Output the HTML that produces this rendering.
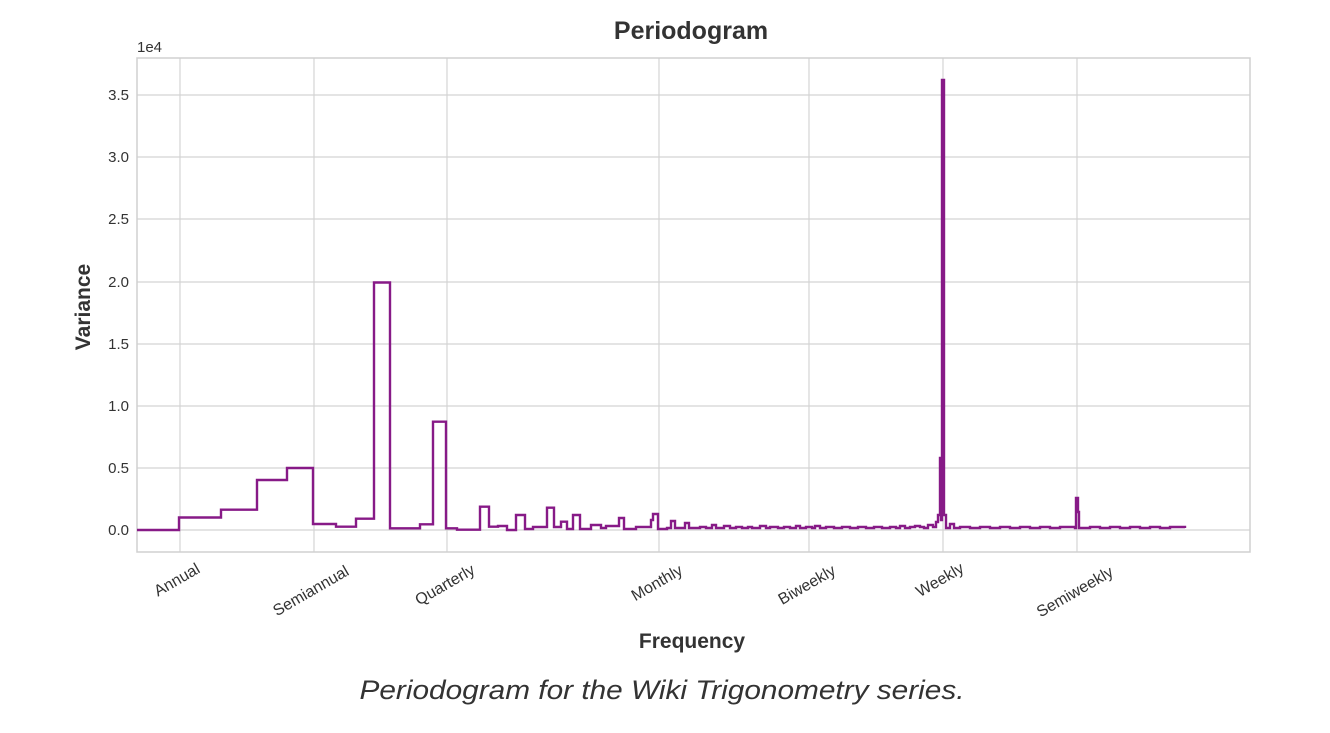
<!DOCTYPE html>
<html><head><meta charset="utf-8"><style>
body{margin:0;background:#fff;width:1330px;height:728px;overflow:hidden}
svg text{font-family:"Liberation Sans",sans-serif;fill:#333}
</style></head><body>
<svg width="1330" height="728" xmlns="http://www.w3.org/2000/svg">
<rect x="0" y="0" width="1330" height="728" fill="#fff"/>
<g stroke="#d4d4d4" stroke-width="1.2">
<line x1="180" y1="58" x2="180" y2="552"/><line x1="314" y1="58" x2="314" y2="552"/>
<line x1="447" y1="58" x2="447" y2="552"/><line x1="659" y1="58" x2="659" y2="552"/>
<line x1="809" y1="58" x2="809" y2="552"/><line x1="943" y1="58" x2="943" y2="552"/>
<line x1="1077" y1="58" x2="1077" y2="552"/>
<line x1="137" y1="530" x2="1250" y2="530"/><line x1="137" y1="468" x2="1250" y2="468"/>
<line x1="137" y1="406" x2="1250" y2="406"/><line x1="137" y1="344" x2="1250" y2="344"/>
<line x1="137" y1="282" x2="1250" y2="282"/><line x1="137" y1="219" x2="1250" y2="219"/>
<line x1="137" y1="157" x2="1250" y2="157"/><line x1="137" y1="95" x2="1250" y2="95"/>
</g>
<rect x="137" y="58" width="1113" height="494" fill="none" stroke="#d0d0d0" stroke-width="1.5"/>
<path fill="none" stroke="#871a87" stroke-width="2.4" stroke-linejoin="miter" d="M137,530 H179 V517.5 H221 V509.7 H257 V480 H287 V468 H313 V524 H336 V526.7 H356 V518.7 H374 V282.5 H390 V528.3 H420 V524.3 H433 V421.7 H446 V528.3 H457 V529.7 H480 V506.7 H489 V526.7 H498 V526 H507 V530 H516 V515 H525 V529 H533 V527 H547 V507.7 H554 V527 H561 V521.7 H567 V529 H573 V515 H580 V529 H591 V525 H601 V528 H606 V526 H619 V518 H624 V529 H636 V527 H651 V520 H653 V514 H658 V529 H667 V528 H671 V521 H675 V528 H685 V523 H689 V528 H700 V527 H706 V528 H712 V525 H716 V528 H724 V526 H730 V528 H736 V527 H742 V528 H748 V527 H752 V528 H760 V526 H766 V528 H770 V527 H778 V528 H784 V527 H790 V528 H796 V526 H800 V528 H806 V527 H812 V528 H815 V526 H820 V528 H826 V527 H834 V528 H842 V527 H850 V528 H858 V527 H866 V528 H874 V527 H882 V528 H890 V527 H896 V528 H900 V526 H905 V528 H910 V527 H915 V526 H920 V527 H924 V528 H928 V525 H933 V527 H936 V522 H938 V515 H940 V458 H941 V520 H942 V80 H944 V515 H946 V528 H950 V524 H954 V528 H960 V527 H970 V528 H980 V527 H990 V528 H1000 V527 H1010 V528 H1020 V527 H1030 V528 H1040 V527 H1050 V528 H1060 V527 H1075 V528 H1076 V498 H1078 V512 H1079 V528 H1090 V527 H1100 V528 H1110 V527 H1120 V528 H1130 V527 H1140 V528 H1150 V527 H1160 V528 H1170 V527 H1185 V528"/>
<text x="691" y="39" text-anchor="middle" font-size="25" font-weight="bold">Periodogram</text>
<text x="137" y="52" font-size="15">1e4</text>
<g font-size="15" text-anchor="end">
<text x="129" y="535">0.0</text><text x="129" y="473">0.5</text><text x="129" y="411">1.0</text>
<text x="129" y="349">1.5</text><text x="129" y="287">2.0</text><text x="129" y="224">2.5</text>
<text x="129" y="162">3.0</text><text x="129" y="100">3.5</text>
</g>
<g font-size="16" text-anchor="middle">
<text transform="translate(177,580) rotate(-30)" dy="5">Annual</text>
<text transform="translate(311,591) rotate(-30)" dy="5">Semiannual</text>
<text transform="translate(445,585) rotate(-30)" dy="5">Quarterly</text>
<text transform="translate(657,583) rotate(-30)" dy="5">Monthly</text>
<text transform="translate(807,585) rotate(-30)" dy="5">Biweekly</text>
<text transform="translate(940,580) rotate(-30)" dy="5">Weekly</text>
<text transform="translate(1075,592) rotate(-30)" dy="5">Semiweekly</text>
</g>
<text x="692" y="648" text-anchor="middle" font-size="21" font-weight="bold">Frequency</text>
<text transform="translate(90,307) rotate(-90)" text-anchor="middle" font-size="21" font-weight="bold">Variance</text>
<text x="662" y="699" text-anchor="middle" font-size="27" font-style="italic" fill="#333" textLength="605" lengthAdjust="spacingAndGlyphs">Periodogram for the Wiki Trigonometry series.</text>
</svg>
</body></html>
